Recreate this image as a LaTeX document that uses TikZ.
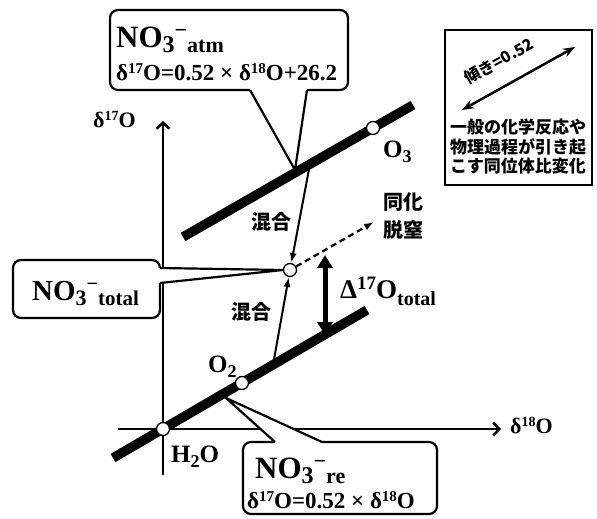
\documentclass[tikz,border=0pt]{standalone}
\usepackage{fontspec}
\setmainfont{Liberation Serif}
\newfontfamily\jp{Noto Sans CJK JP}
\usetikzlibrary{arrows.meta,calc}
\newcommand{\fs}[1]{\fontsize{#1bp}{#1bp}\selectfont}
\newcommand{\rsx}[3]{\raisebox{#1bp}{\fs{#2}#3}}
\tikzset{
  thickline/.style={line width=9.5bp},
  axis/.style={line width=2.5bp,-{Straight Barb[length=6bp,width=13bp,line width=2.5bp]}},
  pt/.style={circle,draw,fill=white,minimum size=13bp,inner sep=0pt,line width=1.3bp},
  cbox/.style={draw,fill=white,line width=2.2bp,rounded corners=8bp},
  cptr/.style={line width=2.2bp,line join=round},
  lbl/.style={anchor=base west,inner sep=0pt,font=\bfseries},
  jlbl/.style={inner sep=0pt,font=\jp\bfseries\fs{20}},
  mix/.style={line width=2bp,-{Latex[length=10bp,width=7bp]}},
  dasharrow/.style={line width=2.3bp,dash pattern=on 6bp off 4bp,-{Latex[length=10bp,width=7bp]}},
  bigarrow/.style={line width=5bp,{Triangle[length=13bp,width=15bp]}-{Triangle[length=13bp,width=15bp]}},
}
\begin{document}
\begin{tikzpicture}[x=1bp,y=-1bp]
\fill[white] (0,0) rectangle (597,519);
\useasboundingbox (0,0) rectangle (597,519);
% thick lines
\coordinate (L1a) at (113,458); \coordinate (L1b) at (367,310);
\coordinate (L2a) at (183,237); \coordinate (L2b) at (413,105);
% axes
\coordinate (xa) at (118,429); \coordinate (xb) at (501,429);
\coordinate (ya) at (163,475); \coordinate (yb) at (163,121);
\draw[axis] (xa) -- (xb);
\draw[axis] (ya) -- (yb);
\draw[thickline] (L1a) -- (L1b);
\draw[thickline] (L2a) -- (L2b);
% callout atm
\draw[cbox] (110,10) rectangle (348,90);
\fill[white] (250,86) -- (250,90) -- (295,170) -- (307,90) -- (307,86) -- cycle;
\draw[cptr] (250,90) -- (295,170) -- (307,90);
% callout total
\draw[cbox] (13,260) rectangle (160,318);
\fill[white] (156,268) -- (160,268) -- (283,270) -- (160,283) -- (156,283) -- cycle;
\draw[cptr] (160,268) -- (283,270) -- (160,283);
% callout re
\draw[cbox] (243,442) rectangle (437,514);
\fill[white] (275,446) -- (275,442) -- (226,398) -- (322,442) -- (322,446) -- cycle;
\draw[cptr] (275,442) -- (226,398) -- (322,442);
% points
\node[pt] (h2opt) at (163,429) {};
\node[pt] (o2pt) at (242,383) {};
\node[pt] (o3pt) at (373,128) {};
\node[pt] (tot) at (290,270) {};
% arrows
\coordinate (mU) at (310,164);
\coordinate (mL) at (273,365);
\coordinate (dashend) at (374,222);
\draw[mix] (mU) -- (tot);
\draw[mix] (mL) -- (tot);
\draw[dasharrow] (tot) -- (dashend);
\coordinate (da) at (325,255); \coordinate (db) at (325,335);
\draw[bigarrow] (da) -- (db);
% texts
\node[lbl] (atmA) at (116,48) {\fs{31}NO\rsx{-5}{24}{3}\rsx{10}{22}{−}\rsx{-5}{22}{atm}};
\node[lbl] (atmB) at (116,81) {\fs{23}δ\rsx{7}{15}{17}O=0.52 × δ\rsx{7}{15}{18}O+26.2};
\node[lbl] (reA) at (255,478) {\fs{31}NO\rsx{-5}{24}{3}\rsx{10}{22}{−}\rsx{-5}{22}{re}};
\node[lbl] (reB) at (247,508) {\fs{23}δ\rsx{7}{15}{17}O=0.52 × δ\rsx{7}{15}{18}O};
\node[lbl] (totA) at (32,300) {\fs{29}NO\rsx{-5}{22}{3}\rsx{10}{20}{−}\rsx{-5}{21}{total}};
\node[lbl] (o3) at (383,158) {\fs{25}O\rsx{-5}{18}{3}};
\node[lbl] (o2) at (208,372) {\fs{25}O\rsx{-5}{18}{2}};
\node[lbl] (h2o) at (171,462) {\fs{25}H\rsx{-5}{18}{2}O};
\node[lbl] (dy) at (93,128) {\fs{22}δ\rsx{7}{14}{17}O};
\node[lbl] (dx) at (510,433) {\fs{22}δ\rsx{7}{14}{18}O};
\node[lbl] (dd) at (340,298) {\fs{27}Δ\rsx{9}{19}{17}O\rsx{-7}{20}{total}};
\node[jlbl] (mixU) at (271,222) {混合};
\node[jlbl] (mixL) at (251,312) {混合};
\node[jlbl,align=left,font=\jp\bfseries\fontsize{20bp}{28bp}\selectfont] (assim) at (403,216) {同化\\脱窒};
% legend
\draw[line width=2.5bp] (445,30) rectangle (592,185);
\coordinate (la) at (462,110); \coordinate (lb) at (575,47);
\draw[line width=2.5bp,{Stealth[length=12bp,width=9bp]}-{Stealth[length=12bp,width=9bp]}] (la) -- (lb);
\node[rotate=29,inner sep=0pt,font=\jp\bfseries\fs{16}] (slope) at (499,61) {傾き=0.52};
\node[align=center,inner sep=0pt,font=\jp\bfseries\fontsize{17bp}{19.5bp}\selectfont] (legtxt) at (518,147) {一般の化学反応や\\物理過程が引き起\\こす同位体比変化};
\end{tikzpicture}
\end{document}
